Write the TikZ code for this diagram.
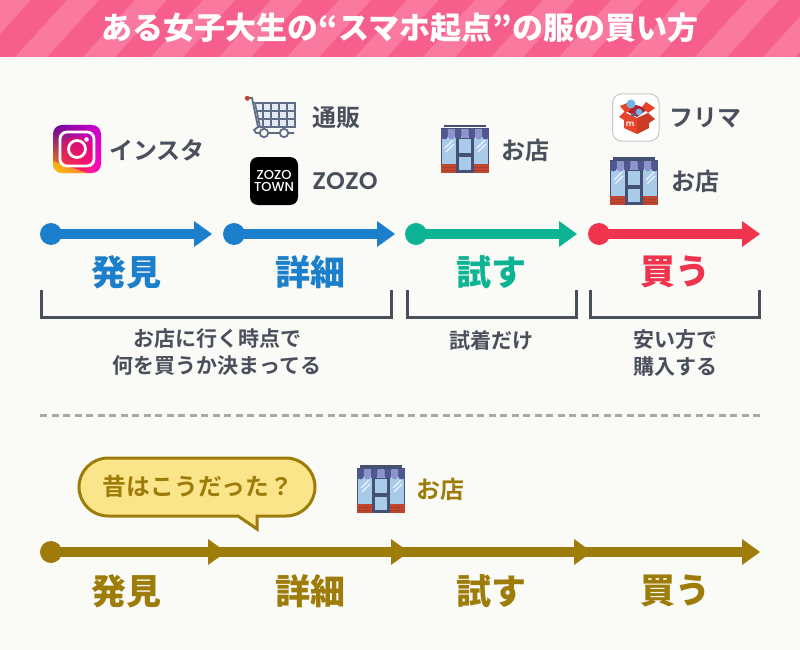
\documentclass[tikz,border=0pt]{standalone}
\usepackage{fontspec}
\setmainfont{Noto Sans CJK JP Bold}
\newfontfamily\heavy{Noto Sans CJK JP Black}
\newfontfamily\latinb{Poppins SemiBold}
\newfontfamily\latinm{Poppins Medium}
\usetikzlibrary{shadings}
\definecolor{bgc}{HTML}{FAFAF6}
\definecolor{pinka}{HTML}{F65F8B}
\definecolor{pinkb}{HTML}{FA7A9F}
\definecolor{ink}{HTML}{4A4F5C}
\definecolor{bluec}{HTML}{1C7FCB}
\definecolor{greenc}{HTML}{0DB493}
\definecolor{redc}{HTML}{F0344E}
\definecolor{olive}{HTML}{9E7C0A}
\definecolor{bubble}{HTML}{FBE58A}
\definecolor{dashc}{HTML}{A8A8A4}
\definecolor{shopd}{HTML}{455075}
\definecolor{shopm}{HTML}{4F5791}
\definecolor{shopl}{HTML}{8D93CC}
\definecolor{glass}{HTML}{A9CBEA}
\definecolor{brick}{HTML}{C2462D}
\definecolor{brickd}{HTML}{8E3A35}
\definecolor{cartc}{HTML}{5F6C85}
\definecolor{cartf}{HTML}{E4EAF4}
\definecolor{merc}{HTML}{E8442A}
\definecolor{mercd}{HTML}{B3202E}
\definecolor{merb}{HTML}{6FB5E6}
\tikzset{
  x=1pt,y=-1pt,
  lab/.style={font=\fontsize{24}{24}\selectfont,text=ink,inner sep=0pt,anchor=center},
  multi/.style={font=\fontsize{21}{27}\selectfont,text=ink,inner sep=0pt,align=center,anchor=center},
  stage/.style={font=\heavy\fontsize{35}{35}\selectfont,inner sep=0pt,anchor=center},
  dot/.style={circle,fill=#1,minimum size=22pt,inner sep=0pt},
  shaft/.style={draw=#1,line width=10pt},
  bracket/.style={draw=ink,line width=3pt},
  shop/.pic={
    \fill[shopd] (3,0) rectangle (45,2.5);
    \fill[glass] (0,3) rectangle (48,40);
    \fill[shopd] (0,3) rectangle (1.2,48);
    \fill[shopd] (46.8,3) rectangle (48,48);
    \fill[shopd] (0,3) rectangle (48,4.5);
    \foreach \i in {0,2,4,6}{\fill[shopm] ({\i*6.85},4) -- ({\i*6.85+6.85},4) -- ({\i*6.85+6.85},11) arc[start angle=0,end angle=180,radius=3.42] -- cycle;}
    \foreach \i in {1,3,5}{\fill[shopl] ({\i*6.85},4) -- ({\i*6.85+6.85},4) -- ({\i*6.85+6.85},11) arc[start angle=0,end angle=180,radius=3.42] -- cycle;}
    \fill[brick] (0,39) rectangle (48,48);
    \fill[shopd] (15,13) rectangle (33,48);
    \fill[glass] (18,14) rectangle (30,28);
    \fill[glass] (18,32) rectangle (30,45);
    \draw[white,line width=1.1pt,opacity=.8] (4,23) -- (12,15) (5,27) -- (13,19) (36,23) -- (44,15) (37,27) -- (45,19);
    \draw[brickd,line width=.8pt,dash pattern=on 1.5pt off 1.2pt] (1,42) -- (15,42) (1,45) -- (15,45) (33,42) -- (47,42) (33,45) -- (47,45);
  },
}
\begin{document}
\begin{tikzpicture}
\useasboundingbox (0,0) rectangle (800,650);
\fill[bgc] (0,0) rectangle (800,650);
% title band
\begin{scope}
  \clip (0,0) rectangle (800,57);
  \fill[pinka] (0,0) rectangle (800,57);
  \foreach \k in {-1,...,12}{
    \fill[pinkb] ({\k*68+15},57) -- ({\k*68+47},57) -- ({\k*68+47+52},0) -- ({\k*68+15+52},0) -- cycle;
  }
\end{scope}
\node[font=\heavy\fontsize{31}{31}\selectfont,text=white,inner sep=0pt] (title) at (400,28) {ある女子大生の“スマホ起点”の服の買い方};

% instagram
\begin{scope}[shift={(53,125)}]
  \begin{scope}
    \clip[rounded corners=9pt] (0,0) rectangle (48,48);
    \shade[lower left=orange!90!yellow,lower right=magenta!75!red,upper left=violet!80!blue,upper right=magenta!65!violet] (0,0) rectangle (48,48);
    \fill[red!70!magenta,opacity=.45] (24,30) circle (18);
    \fill[yellow!80!orange,opacity=.6] (0,48) -- (0,36) -- (34,48) -- cycle;
  \end{scope}
  \draw[white,line width=2.8pt,rounded corners=7pt] (7,7) rectangle (41,41);
  \draw[white,line width=2.8pt] (24,24) circle (8.5);
  \fill[white] (33.5,14.5) circle (2.3);
\end{scope}
\node[lab] (insta) at (157,150) {インスタ};

% cart
\begin{scope}[shift={(245,96)}]
  \draw[cartc,line width=1.6pt,fill=cartf] (10,7) -- (50,7) -- (50,31) -- (15,31) -- cycle;
  \foreach \xx in {18,26,34,42}{\draw[cartc,line width=1.2pt] (\xx,7) -- (\xx,31);}
  \draw[cartc,line width=1.2pt] (11,15) -- (50,15) (13,23) -- (50,23);
  \draw[cartc,line width=1.8pt] (2,2) -- (7,2) -- (13,31) -- (9,34) -- (11,37) -- (49,37);
  \fill[brick] (2.3,2.3) circle (2.5);
  \draw[cartc,line width=1.8pt,fill=bgc] (19,37) circle (4.2);
  \draw[cartc,line width=1.8pt,fill=bgc] (39,37) circle (4.2);
\end{scope}
\node[lab] (tsuhan) at (336,118) {通販};

% zozo icon
\fill[black,rounded corners=8pt] (250,157) rectangle (298,205);
\node[font=\latinm\fontsize{13}{13}\selectfont,text=white,inner sep=0pt,align=center] (zozoicon) at (274,181) {ZOZO\\[-1pt]TOWN};
\node[font=\latinb\fontsize{24}{24}\selectfont,text=ink,inner sep=0pt] (zozo) at (345,181) {ZOZO};

% shops
\pic at (441,125) {shop};
\node[lab] (shop1) at (525,150) {お店};
\pic at (610,157) {shop};
\node[lab] (shop2) at (695,181) {お店};
\pic at (357,465) {shop};
\node[lab,text=olive] (shop3) at (440,489) {お店};

% mercari icon
\draw[black!22,line width=1pt,fill=white,rounded corners=9pt] (612.5,94) rectangle (659,141);
\begin{scope}[shift={(612,93)}]
  \fill[mercd] (12,17) -- (24,12) -- (36,16) -- (25,24) -- cycle;
  \fill[merc] (8,13) -- (14,20) -- (25,25) -- (25,41) -- (12,35) -- (12,27) -- (7,24) -- (13,18) -- cycle;
  \fill[merc!88!black] (25,25) -- (36,20) -- (43,26) -- (37,30) -- (37,35) -- (25,41) -- cycle;
  \fill[merc] (36,20) -- (43,15) -- (34,9) -- (30,14) -- cycle;
  \fill[merc] (8,13) -- (15,10) -- (19,16) -- (14,20) -- cycle;
  \fill[merb] (19,11) circle (4.5);
  \fill[merb] (27,19) circle (3.4);
  \fill[cartc] (21,22) circle (2);
  \node[font=\latinb\fontsize{8}{8}\selectfont,text=white,inner sep=0pt] (mlogo) at (18,31.5) {m};
\end{scope}
\node[lab] (frima) at (705,118) {フリマ};

% upper arrows
\foreach \nm/\xs/\xe/\cc in {a/51/212/bluec,b/234/395/bluec,c/416/577/greenc,d/599/760/redc}{
  \node[dot=\cc] (s\nm) at (\xs,234) {};
  \coordinate (e\nm) at (\xe,234);
  \coordinate (h\nm) at (\xe-18,234);
  \draw[shaft=\cc] (s\nm.center) -- (h\nm);
  \fill[\cc] (\xe,234) -- (\xe-18,221) -- (\xe-18,247) -- cycle;
}
\node[stage,text=bluec] (l1) at (126,272) {発見};
\node[stage,text=bluec] (l2) at (310,272) {詳細};
\node[stage,text=greenc] (l3) at (491,272) {試す};
\node[stage,text=redc] (l4) at (675,272) {買う};

% brackets
\draw[bracket] (41.5,290) -- (41.5,317.5) -- (391,317.5) -- (391,290);
\draw[bracket] (407,290) -- (407,317.5) -- (576.5,317.5) -- (576.5,290);
\draw[bracket] (590.5,290) -- (590.5,317.5) -- (759,317.5) -- (759,290);
\node[multi] (n1) at (217,352.5) {お店に行く時点で\\何を買うか決まってる};
\node[multi] (n2) at (491,341) {試着だけ};
\node[multi] (n3) at (675,352.5) {安い方で\\購入する};

% divider
\coordinate (dl) at (40,415);
\coordinate (dr) at (761,415);
\draw[dashc,line width=3pt,dash pattern=on 7pt off 4.5pt] (dl) -- (dr);

% bubble
\draw[olive,line width=3pt,fill=bubble]
  (108,458) -- (286,458) arc[start angle=-90,end angle=90,radius=29] -- (257,516) -- (257,529) -- (238,516) -- (108,516) arc[start angle=90,end angle=270,radius=29] -- cycle;
\node[font=\fontsize{23.8}{23.8}\selectfont,text=olive,inner sep=0pt] (old) at (198,486) {昔はこうだった？};

% lower arrow
\node[dot=olive] (s0) at (51,552) {};
\coordinate (e0) at (745,552);
\draw[shaft=olive] (s0.center) -- (e0);
\foreach \xx in {208,391,574,742}{\fill[olive] (\xx,539) -- (\xx+18,552) -- (\xx,565) -- cycle;}
\node[stage,text=olive] (m1) at (126,591) {発見};
\node[stage,text=olive] (m2) at (310,591) {詳細};
\node[stage,text=olive] (m3) at (491,591) {試す};
\node[stage,text=olive] (m4) at (675,591) {買う};
\end{tikzpicture}
\end{document}
